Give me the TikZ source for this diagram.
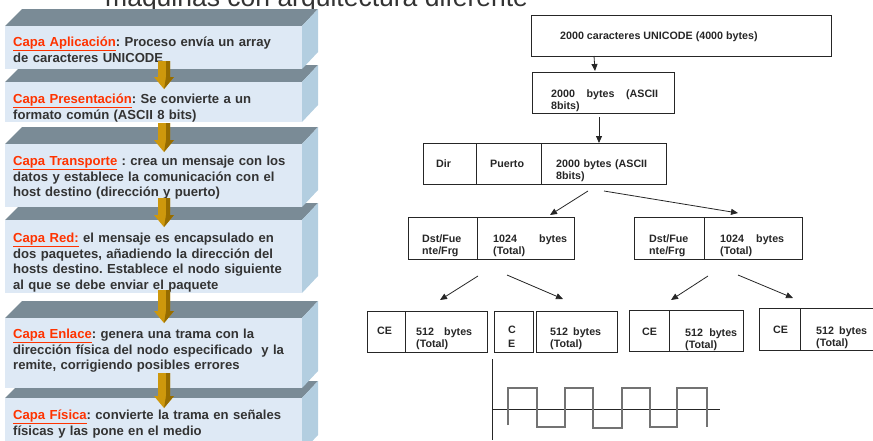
\documentclass[tikz,border=0pt]{standalone}
\usepackage{fontspec}
\setmainfont{Liberation Sans}
\usetikzlibrary{arrows.meta}
\frenchspacing
\definecolor{capared}{RGB}{255,51,0}
\definecolor{slab}{RGB}{222,233,245}
\definecolor{slabtop}{RGB}{122,139,150}
\definecolor{slabside}{RGB}{179,206,224}
\definecolor{gold}{RGB}{206,152,12}
\definecolor{golddark}{RGB}{150,108,0}
\definecolor{txt}{RGB}{51,51,51}
\newcommand{\capa}[1]{\textcolor{capared}{\underline{#1}}}
\tikzset{
  layertext/.style={anchor=base west,align=left,inner sep=0pt,text=txt,text width=295pt,
    font=\fontsize{13.1}{15.5}\selectfont\bfseries},
  field/.style={draw=black!85,line width=0.8pt,anchor=north west,inner sep=0pt,minimum height=41pt},
  ftext/.style={anchor=base west,align=left,inner sep=0pt,text=black!85,
    font=\fontsize{10.7}{12.2}\selectfont\bfseries},
  arr/.style={-{Triangle[length=7pt,width=6pt]},line width=0.8pt,black!85},
  wave/.style={line width=1.2pt,black!55},
}
\begin{document}
\begin{tikzpicture}[x=1pt,y=-1pt]
\useasboundingbox (0,0) rectangle (873,440);
\clip (0,0) rectangle (873,440);
\node[anchor=base west,inner sep=0pt,text=txt,font=\fontsize{26.5}{30}\selectfont] (title) at (105,6) {máquinas con arquitectura diferente};
% OSI layers as slabs, drawn from the bottom up
\foreach \t/\b in {398/452,318/388,220/293,144/207,82/122,26/69} {
  \fill[slabtop] (5,\t) -- (22,\t-17) -- (318,\t-17) -- (302,\t) -- cycle;
  \fill[slabside] (302,\t) -- (318,\t-17) -- (318,\b-17) -- (302,\b) -- cycle;
  \fill[slab] (5,\t) rectangle (302,\b);
}
\node[layertext] (aplic) at (13,46.5) {\capa{Capa Aplicación}: Proceso envía un array\\de caracteres UNICODE};
\node[layertext] (present) at (13,103.5) {\capa{Capa Presentación}: Se convierte a un\\formato común (ASCII 8 bits)};
\node[layertext] (transp) at (13,165.5) {\capa{Capa Transporte} : crea un mensaje con los\\datos y establece la comunicación con el\\host destino (dirección y puerto)};
\node[layertext] (red) at (13,242.5) {\capa{Capa Red:} el mensaje es encapsulado en\\dos paquetes, añadiendo la dirección del\\hosts destino. Establece el nodo siguiente\\al que se debe enviar el paquete};
\node[layertext] (enlace) at (13,338.5) {\capa{Capa Enlace}: genera una trama con la\\dirección física del nodo especificado\ \ y la\\remite, corrigiendo posibles errores};
\node[layertext] (fisica) at (13,419.5) {\capa{Capa Física}: convierte la trama en señales\\físicas y las pone en el medio};
% gold arrows between layers
\foreach \a/\z in {61/89,123/152,198/227,290/323,373/408} {
  \fill[gold] (158,\a) -- (170,\a) -- (170,\z-12) -- (174,\z-12) -- (164,\z) -- (154,\z-12) -- (158,\z-12) -- cycle;
  \fill[golddark] (166,\a) -- (170,\a) -- (170,\z-12) -- (174,\z-12) -- (164,\z) -- (166,\z-12) -- cycle;
}
% message split into packets
\node[field,minimum width=300pt] (uni) at (531,15) {};
\node[ftext] (unit) at (560,39.8) {2000 caracteres UNICODE (4000 bytes)};
\node[field,minimum width=142pt] (ascii) at (532,72) {};
\node[ftext,text width=107pt] (asciit) at (551,97) {2000\hfill bytes\hfill (ASCII\\8bits)};
\node[field,minimum width=53pt] (dir) at (423,143) {};
\node[field,minimum width=65pt] (pto) at (476,143) {};
\node[field,minimum width=125pt] (dat) at (541,143) {};
\node[ftext] (dirt) at (436,167) {Dir};
\node[ftext] (ptot) at (490,167) {Puerto};
\node[ftext,text width=100pt] (datt) at (556,167) {2000 bytes (ASCII\\8bits)};
\node[field,minimum width=69pt,minimum height=42pt] (hl) at (408,217) {};
\node[field,minimum width=97pt,minimum height=42pt] (pl) at (477,217) {};
\node[field,minimum width=70pt,minimum height=42pt] (hr) at (634,217) {};
\node[field,minimum width=98pt,minimum height=42pt] (pr) at (704,217) {};
\node[ftext,text width=50pt] (hlt) at (422,242.5) {Dst/Fue\\nte/Frg};
\node[ftext,text width=74pt] (plt) at (493,242) {1024\hfill bytes\\(Total)};
\node[ftext,text width=50pt] (hrt) at (649,242.5) {Dst/Fue\\nte/Frg};
\node[ftext,text width=64pt] (prt) at (720,242) {1024\hfill bytes\\(Total)};
\node[field,minimum width=38pt] (ce1) at (367,311) {};
\node[field,minimum width=82pt] (f1) at (405,311) {};
\node[field,minimum width=39pt] (ce2) at (494,311) {};
\node[field,minimum width=81pt] (f2) at (536,311) {};
\node[field,minimum width=40pt] (ce3) at (629,310) {};
\node[field,minimum width=74pt] (f3) at (669,310) {};
\node[field,minimum width=41pt,minimum height=42pt] (ce4) at (759,308) {};
\node[field,minimum width=80pt,minimum height=42pt] (f4) at (800,308) {};
\node[ftext] (ce1t) at (377,334.5) {CE};
\node[ftext,text width=56pt] (f1t) at (416,335.5) {512\hfill bytes\\(Total)};
\node[ftext,text width=20pt,font=\fontsize{10.7}{14}\selectfont\bfseries] (ce2t) at (508,333) {C\\E};
\node[ftext,text width=51pt] (f2t) at (550,335.5) {512\hfill bytes\\(Total)};
\node[ftext] (ce3t) at (642,335) {CE};
\node[ftext,text width=52pt] (f3t) at (685,336) {512\hfill bytes\\(Total)};
\node[ftext] (ce4t) at (773,333) {CE};
\node[ftext,text width=51pt] (f4t) at (816,334.5) {512\hfill bytes\\(Total)};
% arrow end points
\coordinate (a1) at (594,56);   \coordinate (a2) at (595,71);
\coordinate (b1) at (599,117);  \coordinate (b2) at (599,143);
\coordinate (c1) at (588,191);  \coordinate (c2) at (550,215);
\coordinate (d1) at (604,191);  \coordinate (d2) at (738,213);
\coordinate (e1) at (478,276);  \coordinate (e2) at (440,300);
\coordinate (f1s) at (507,275); \coordinate (f2s) at (563,299);
\coordinate (g1) at (708,276);  \coordinate (g2) at (671,300);
\coordinate (h1) at (738,275);  \coordinate (h2) at (793,298);
\draw[arr] (a1) -- (a2);
\draw[arr] (b1) -- (b2);
\draw[arr] (c1) -- (c2);
\draw[arr] (d1) -- (d2);
\draw[arr] (e1) -- (e2);
\draw[arr] (f1s) -- (f2s);
\draw[arr] (g1) -- (g2);
\draw[arr] (h1) -- (h2);
% signal on the medium
\draw[line width=0.9pt,black!85] (492,359) -- (492,440);
\draw[line width=0.9pt,black!85] (492,409) -- (720,409);
\draw[wave] (508,425) -- (508,388) -- (537,388) -- (537,427) -- (565,427) -- (565,388) -- (593,388) -- (593,428)
  -- (622,428) -- (622,388) -- (650,388) -- (650,427) -- (677,427) -- (677,388) -- (707,388) -- (707,427);
\end{tikzpicture}
\end{document}
